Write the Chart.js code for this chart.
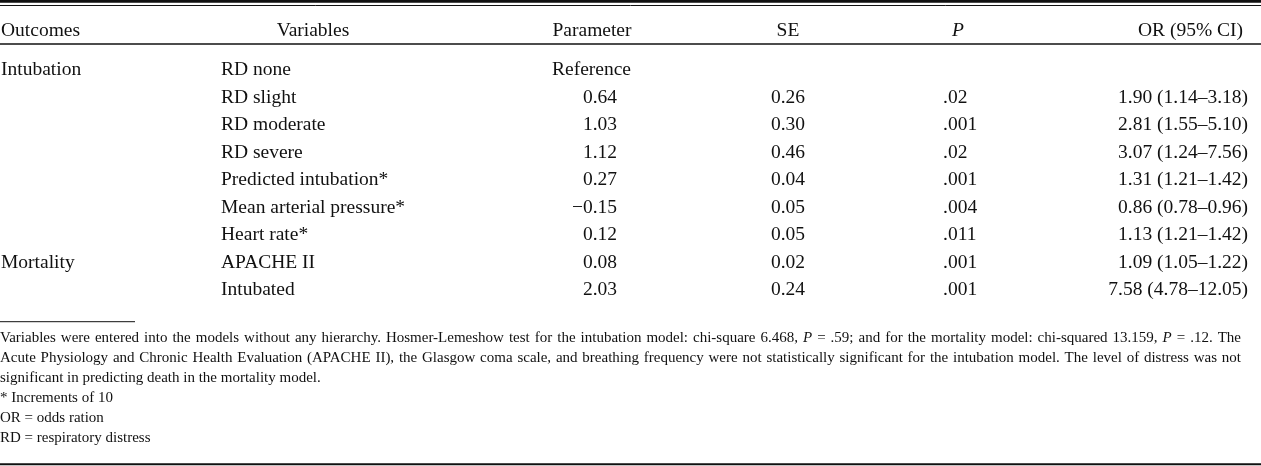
<!DOCTYPE html>
<html>
<head>
<meta charset="utf-8">
<script src="https://cdn.jsdelivr.net/npm/chart.js@4.4.1/dist/chart.umd.min.js"></script>
<style>
  html, body { margin: 0; padding: 0; background: #fff; }
  canvas { display: block; }
</style>
</head>
<body>
<canvas id="table" width="1261" height="466"></canvas>
<script>
// table contents
const headers = ['Outcomes', 'Variables', 'Parameter', 'SE', 'P', 'OR (95% CI)'];
const outcomes = ['Intubation', '', '', '', '', '', '', 'Mortality', ''];
const variables = ['RD none', 'RD slight', 'RD moderate', 'RD severe', 'Predicted intubation*',
    'Mean arterial pressure*', 'Heart rate*', 'APACHE II', 'Intubated'];
const parameters = ['Reference', '0.64', '1.03', '1.12', '0.27', '\u22120.15', '0.12', '0.08', '2.03'];
const standardErrors = ['', '0.26', '0.30', '0.46', '0.04', '0.05', '0.05', '0.02', '0.24'];
const pValues = ['', '.02', '.001', '.02', '.001', '.004', '.011', '.001', '.001'];
const oddsRatios = ['', '1.90 (1.14\u20133.18)', '2.81 (1.55\u20135.10)', '3.07 (1.24\u20137.56)',
    '1.31 (1.21\u20131.42)', '0.86 (0.78\u20130.96)', '1.13 (1.21\u20131.42)', '1.09 (1.05\u20131.22)',
    '7.58 (4.78\u201312.05)'];
const footnotes = [
    'Variables were entered into the models without any hierarchy. Hosmer-Lemeshow test for the intubation model: chi-square 6.468, _P_ = .59; and for the mortality model: chi-squared 13.159, _P_ = .12. The',
    'Acute Physiology and Chronic Health Evaluation (APACHE II), the Glasgow coma scale, and breathing frequency were not statistically significant for the intubation model. The level of distress was not',
    'significant in predicting death in the mortality model.',
    '* Increments of 10',
    'OR = odds ration',
    'RD = respiratory distress'
];
const columnsData = [outcomes, variables, parameters, standardErrors, pValues, oddsRatios];

// layout
const SERIF = '"Liberation Serif", "Times New Roman", serif';
const bodyFont = '19.5px ' + SERIF;
const footFont = '15px ' + SERIF;
const ink = '#111';
const columnLayout = [
    { headX: 1, headAlign: 'left', cellX: 1, cellAlign: 'left' },
    { headX: 313, headAlign: 'center', cellX: 221, cellAlign: 'left' },
    { headX: 592, headAlign: 'center', cellX: 617, cellAlign: 'right', wordX: 552 },
    { headX: 788, headAlign: 'center', cellX: 805, cellAlign: 'right' },
    { headX: 958, headAlign: 'center', cellX: 943, cellAlign: 'left', italicHead: true },
    { headX: 1243, headAlign: 'right', cellX: 1248, cellAlign: 'right' }
];
const headerRow = -1.42;
const footFirstRow = 9.71;
const footStep = 0.727;
const justifiedLines = 2;
const justifyRight = 1241;
const rules = [
    { row: -2.678, width: 3, from: 0, to: 1261 },
    { row: -2.527, width: 1, from: 0, to: 1261 },
    { row: -1.131, width: 1.5, from: 0, to: 1261 },
    { row: 8.971, width: 1, from: 0, to: 135 },
    { row: 14.156, width: 2, from: 0, to: 1261 }
];

function drawFootLine(ctx, line, x0, y, justify) {
    const words = line.split(' ');
    const widths = words.map(w => {
        ctx.font = (w.startsWith('_') ? 'italic ' : '') + footFont;
        return ctx.measureText(w.replace(/_/g, '')).width;
    });
    ctx.font = footFont;
    let gap = ctx.measureText(' ').width;
    if (justify) {
        const total = widths.reduce((a, b) => a + b, 0);
        gap = (justifyRight - x0 - total) / (words.length - 1);
    }
    let x = x0;
    words.forEach((w, i) => {
        ctx.font = (w.startsWith('_') ? 'italic ' : '') + footFont;
        ctx.fillText(w.replace(/_/g, ''), x, y);
        x += widths[i] + gap;
    });
}

const tablePlugin = {
    id: 'tablePlugin',
    beforeDraw(chart) {
        const ctx = chart.ctx;
        ctx.save();
        ctx.fillStyle = '#fff';
        ctx.fillRect(0, 0, chart.width, chart.height);
        ctx.restore();
    },
    afterDatasetsDraw(chart) {
        const ctx = chart.ctx;
        const xs = chart.scales.x;
        const ys = chart.scales.y;
        ctx.save();
        ctx.fillStyle = ink;
        ctx.strokeStyle = ink;
        ctx.textBaseline = 'alphabetic';

        rules.forEach(r => {
            const y = ys.getPixelForValue(r.row);
            ctx.lineWidth = r.width;
            ctx.beginPath();
            ctx.moveTo(xs.getPixelForValue(r.from), y);
            ctx.lineTo(xs.getPixelForValue(r.to), y);
            ctx.stroke();
        });

        // header row
        headers.forEach((h, c) => {
            const lay = columnLayout[c];
            ctx.font = (lay.italicHead ? 'italic ' : '') + bodyFont;
            ctx.textAlign = lay.headAlign;
            ctx.fillText(h, xs.getPixelForValue(lay.headX), ys.getPixelForValue(headerRow));
        });

        // body cells, placed at the points the scatter controller computed
        ctx.font = bodyFont;
        chart.data.datasets.forEach((ds, c) => {
            const meta = chart.getDatasetMeta(c);
            const lay = columnLayout[c];
            meta.data.forEach((pt, i) => {
                const label = ds.data[i].label;
                if (!label) return;
                if (lay.wordX !== undefined && isNaN(parseFloat(label.replace('\u2212', '-')))) {
                    ctx.textAlign = 'left';
                    ctx.fillText(label, xs.getPixelForValue(lay.wordX), pt.y);
                } else {
                    ctx.textAlign = lay.cellAlign;
                    ctx.fillText(label, pt.x, pt.y);
                }
            });
        });

        // footnotes
        ctx.textAlign = 'left';
        footnotes.forEach((line, i) => {
            const y = ys.getPixelForValue(footFirstRow + i * footStep);
            drawFootLine(ctx, line, xs.getPixelForValue(0), y, i < justifiedLines);
        });
        ctx.restore();
    }
};

new Chart(document.getElementById('table'), {
    type: 'scatter',
    data: {
        datasets: columnsData.map((col, c) => ({
            data: col.map((v, i) => ({ x: columnLayout[c].cellX, y: i, label: v })),
            pointRadius: 0,
            pointHoverRadius: 0
        }))
    },
    plugins: [tablePlugin],
    options: {
        responsive: false,
        animation: false,
        events: [],
        layout: { padding: 0, autoPadding: false },
        plugins: {
            legend: { display: false },
            tooltip: { enabled: false }
        },
        scales: {
            x: { type: 'linear', display: false, min: 0, max: 1261 },
            y: { type: 'linear', display: false, reverse: true, min: -75 / 27.5, max: 391 / 27.5 }
        }
    }
});
</script>
</body>
</html>
